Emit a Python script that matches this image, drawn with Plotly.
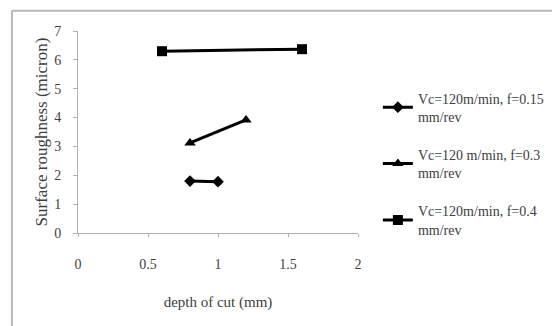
import plotly.graph_objects as go

# Data
series_names = [
    "Vc=120m/min, f=0.15<br>mm/rev",
    "Vc=120 m/min, f=0.3<br>mm/rev",
    "Vc=120m/min, f=0.4<br>mm/rev",
]
depth_f015 = [0.8, 1.0]
rough_f015 = [1.8, 1.78]
depth_f03 = [0.8, 1.2]
rough_f03 = [3.12, 3.92]
depth_f04 = [0.6, 1.6]
rough_f04 = [6.3, 6.37]

x_ticks = [0, 0.5, 1, 1.5, 2]
y_ticks = [0, 1, 2, 3, 4, 5, 6, 7]

FONT = "Liberation Serif"
TXT = "#404040"
AX = "#b0b0b0"
FRAME = "#b8b8b8"

fig = go.Figure()
for i, (xs, ys, sym, size) in enumerate([
    (depth_f015, rough_f015, "diamond", 9),
    (depth_f03, rough_f03, "triangle-up", 10),
    (depth_f04, rough_f04, "square", 10),
]):
    fig.add_trace(go.Scatter(
        x=xs, y=ys, mode="lines+markers", name=series_names[i],
        legendgroup=str(i),
        line=dict(color="black", width=3),
        marker=dict(symbol=sym, size=size, color="black"),
    ))

fig.update_layout(
    width=552, height=326,
    margin=dict(l=78, r=194, t=31, b=93, autoexpand=False),
    paper_bgcolor="white", plot_bgcolor="white",
    font=dict(family=FONT, size=14, color=TXT),
    legend=dict(
        x=1.071, y=0.745, xanchor="left", yanchor="top",
        font=dict(family=FONT, size=14, color=TXT),
        tracegroupgap=17, itemwidth=30, traceorder="grouped",
        bgcolor="rgba(0,0,0,0)",
    ),
    xaxis=dict(
        range=[0, 2], tickvals=x_ticks, ticktext=[str(v) for v in x_ticks],
        showgrid=False, zeroline=False, showline=True, linecolor=AX, linewidth=1,
        ticks="outside", ticklen=3, tickcolor=AX,
        tickfont=dict(family=FONT, size=14, color=TXT),
        ticklabelstandoff=15,
        title=dict(text="depth of cut (mm)", standoff=25,
                   font=dict(family=FONT, size=15, color=TXT)),
        automargin=False,
    ),
    yaxis=dict(
        range=[0, 7], tickvals=y_ticks,
        showgrid=False, zeroline=False, showline=True, linecolor=AX, linewidth=1,
        ticks="outside", ticklen=4, tickcolor=AX,
        tickfont=dict(family=FONT, size=14, color=TXT),
        ticklabelstandoff=9,
        title=dict(text="Surface roughness (micron)", standoff=2,
                   font=dict(family=FONT, size=17, color=TXT)),
        automargin=False,
    ),
    shapes=[
        dict(type="line", xref="paper", yref="paper",
             x0=-0.236, x1=1.75, y0=1.1, y1=1.1,
             line=dict(color=FRAME, width=2)),
        dict(type="line", xref="paper", yref="paper",
             x0=-0.236, x1=-0.236, y0=-0.5, y1=1.1,
             line=dict(color=FRAME, width=2)),
    ],
    showlegend=True,
)

fig.write_html("out.html", config={"displayModeBar": False},
               post_script="document.body.style.margin='0';")
